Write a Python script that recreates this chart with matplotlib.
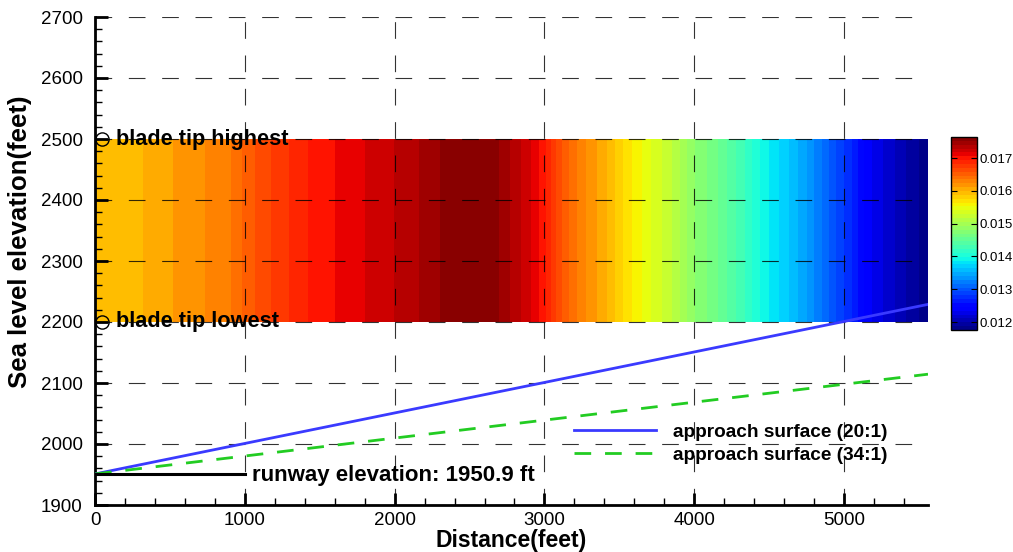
import numpy as np
import matplotlib.pyplot as plt
from matplotlib.lines import Line2D

plt.rcParams['font.family'] = ['Liberation Sans', 'DejaVu Sans']

# blade-sweep band: value along the distance axis
dist = [0, 150, 300, 500, 700, 900, 1000, 1200, 1450, 1700, 1900, 2100, 2300,
        2500, 2600, 2700, 2800, 2900, 3000, 3100, 3250, 3400, 3550, 3700, 3850,
        4000, 4150, 4300, 4450, 4600, 4750, 4900, 5050, 5150, 5300, 5450, 5560]
value = [0.01589, 0.01592, 0.01598, 0.01610, 0.01621, 0.01633, 0.01650, 0.01673,
         0.01696, 0.01711, 0.01723, 0.01735, 0.01752, 0.01764, 0.01764, 0.01752,
         0.01735, 0.01720, 0.01696, 0.01662, 0.01627, 0.01604, 0.01570, 0.01543,
         0.01517, 0.01483, 0.01460, 0.01431, 0.01397, 0.01370, 0.01341, 0.01305,
         0.01270, 0.01241, 0.01217, 0.01194, 0.01180]
tip_low, tip_high = 2200, 2500
tip_marker_x = 50

runway = 1950.9
x_end = 5560
slopes = {'approach surface (20:1)': 20, 'approach surface (34:1)': 34}

fig = plt.figure(figsize=(10.13, 5.52), dpi=100)
ax = fig.add_axes([95/1013, 1 - 505/552, 833/1013, 488/552])

X, Y = np.meshgrid(dist, [tip_low, tip_high])
Z = np.vstack([value, value])
vmin, vmax = 0.01176, 0.01764
levels = np.linspace(vmin, vmax, 51)
cf = ax.contourf(X, Y, Z, levels=levels, cmap='jet', vmin=vmin, vmax=vmax,
                 zorder=1)

# approach surfaces
xs = np.array([0, x_end])
ax.plot(xs, runway + xs / 20, color='#3a3aff', lw=2, zorder=3)
ax.plot(xs, runway + xs / 34, color='#22cc22', lw=2, ls=(0, (6, 5)), zorder=3)
ax.plot([0, 1000], [runway, runway], color='black', lw=2.2, zorder=3)

ax.plot([tip_marker_x, tip_marker_x], [tip_high, tip_low], 'o', ms=9.5,
        mfc='none', mec='black', mew=1, clip_on=False, zorder=5)
ax.text(140, tip_high, 'blade tip highest', fontsize=15.7, fontweight='bold',
        va='center', zorder=5)
ax.text(140, tip_low, 'blade tip lowest', fontsize=15.7, fontweight='bold',
        va='center', zorder=5)
ax.text(1050, 1949, 'runway elevation: %.1f ft' % runway, fontsize=16,
        fontweight='bold', va='center', zorder=5)

handles = [Line2D([], [], color='#3a3aff', lw=2),
           Line2D([], [], color='#22cc22', lw=2, ls=(0, (6, 5)))]
leg = ax.legend(handles, list(slopes), loc='upper left', frameon=False,
                bbox_to_anchor=(471/833, 1 - (416 - 17)/488),
                handlelength=4.35, handletextpad=0.85, labelspacing=0.3,
                prop={'weight': 'bold', 'size': 13.7}, borderaxespad=0)

ax.set_xlim(0, x_end)
ax.set_ylim(1900, 2700)
ax.set_xticks(np.arange(0, 5001, 1000))
ax.set_xticks(np.arange(0, 5600, 200), minor=True)
ax.set_yticks(np.arange(1900, 2701, 100))
ax.set_yticks(np.arange(1900, 2701, 20), minor=True)
ax.tick_params(which='major', direction='in', length=9, width=2, labelsize=13.5)
ax.tick_params(axis='y', which='major', pad=9)
ax.tick_params(axis='x', which='major', pad=5)
ax.tick_params(which='minor', direction='in', length=5, width=1)
for s in ['top', 'right']:
    ax.spines[s].set_visible(False)
for s in ['left', 'bottom']:
    ax.spines[s].set_linewidth(2)
ax.grid(True, which='major', color='black', lw=0.8, ls=(0, (15, 15)),
        alpha=0.8, zorder=4)
ax.set_axisbelow(False)

ax.set_xlabel('Distance(feet)', fontsize=16.5, fontweight='bold')
ax.xaxis.set_label_coords(0.5, -0.05)
ax.set_ylabel('Sea level elevation(feet)', fontsize=18.5, fontweight='bold')
ax.yaxis.set_label_coords(-0.0756, 0.54)

cax = fig.add_axes([951/1013, 1 - 330/552, 26/1013, 193/552])
cb = fig.colorbar(cf, cax=cax, ticks=[0.012, 0.013, 0.014, 0.015, 0.016, 0.017])
cb.ax.tick_params(direction='in', left=True, right=True, length=4,
                  labelsize=9.5, pad=1.5)
cb.outline.set_linewidth(1)

fig.savefig('out.png')
